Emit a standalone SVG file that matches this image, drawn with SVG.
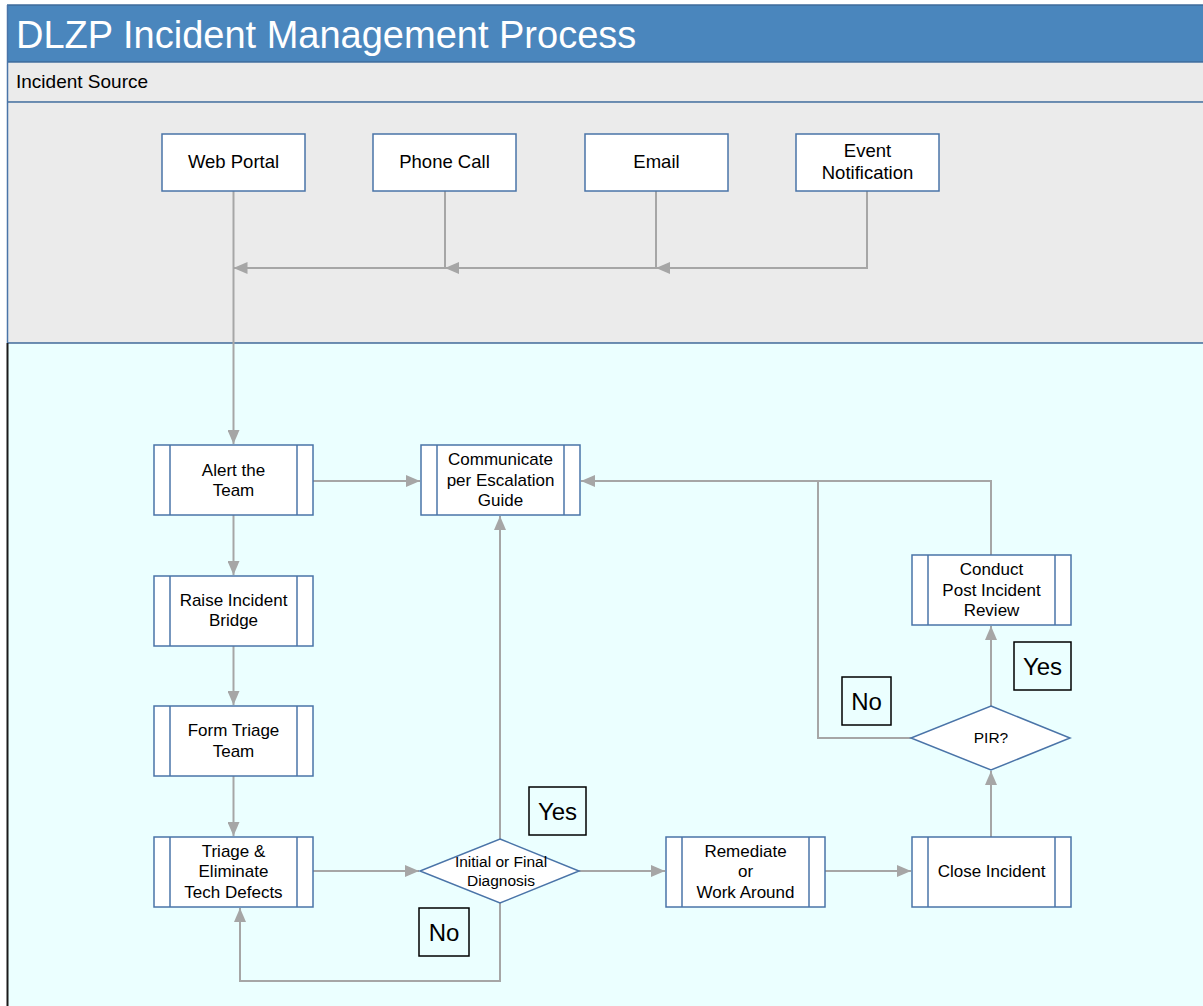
<svg xmlns="http://www.w3.org/2000/svg" width="1203" height="1006" viewBox="0 0 1203 1006">
<defs>
<marker id="ah" viewBox="0 0 14 12" refX="14" refY="6" markerWidth="14" markerHeight="12" markerUnits="userSpaceOnUse" orient="auto">
<path d="M0,0 L14,6 L0,12 Z" fill="#A6A6A6"/>
</marker>
<style>
text{font-family:"Liberation Sans",Arial,sans-serif;fill:#000;}
.src{fill:#fff;stroke:#4A74A8;stroke-width:1.5;}
.proc{fill:#fff;stroke:#4A74A8;stroke-width:1.5;}
.bar{stroke:#4A74A8;stroke-width:1.5;}
.dia{fill:#fff;stroke:#4A74A8;stroke-width:1.5;}
.lbl{fill:none;stroke:#000;stroke-width:1.5;}
.c{fill:none;stroke:#A6A6A6;stroke-width:2;}
.t18{font-size:18.5px;text-anchor:middle;}
.t17{font-size:17px;text-anchor:middle;}
.t14{font-size:15.5px;text-anchor:middle;}
.t24{font-size:24px;text-anchor:middle;}
</style>
</defs>
<g id="background">
<rect x="0" y="0" width="1203" height="1006" fill="#fff"/>
<rect x="7" y="5" width="1196" height="57" fill="#4A86BD"/>
<line x1="7" y1="5" x2="1203" y2="5" stroke="#3E6A9A" stroke-width="1.5"/>
<line x1="7" y1="62" x2="1203" y2="62" stroke="#3E6A9A" stroke-width="1.5"/>
<rect x="7" y="63" width="1196" height="39" fill="#EBEBEB"/>
<line x1="7" y1="102" x2="1203" y2="102" stroke="#3E6A9A" stroke-width="1.5"/>
<rect x="7" y="103" width="1196" height="240" fill="#EBEBEB"/>
<line x1="7" y1="343" x2="1203" y2="343" stroke="#3E6A9A" stroke-width="1.5"/>
<rect x="7" y="344" width="1196" height="662" fill="#EBFFFF"/>
<line x1="7.5" y1="5" x2="7.5" y2="343" stroke="#4A74A8" stroke-width="1.5"/>
<line x1="7.5" y1="343" x2="7.5" y2="1006" stroke="#1A1A1A" stroke-width="2"/>
<text x="16" y="48" style="font-size:38px;fill:#fff;">DLZP Incident Management Process</text>
<text x="16" y="88" style="font-size:19px;">Incident Source</text>
</g>
<g id="connectors">
<path class="c" d="M233.5,191 V444" marker-end="url(#ah)"/>
<path class="c" d="M445,191 V268"/>
<path class="c" d="M656,191 V268"/>
<path class="c" d="M867,191 V268 H656" marker-end="url(#ah)"/>
<path class="c" d="M656,268 H445" marker-end="url(#ah)"/>
<path class="c" d="M445,268 H233.5" marker-end="url(#ah)"/>
<path class="c" d="M233.5,515 V575" marker-end="url(#ah)"/>
<path class="c" d="M233.5,646 V705" marker-end="url(#ah)"/>
<path class="c" d="M233.5,776 V836" marker-end="url(#ah)"/>
<path class="c" d="M313,481 H420" marker-end="url(#ah)"/>
<path class="c" d="M313,871 H419" marker-end="url(#ah)"/>
<path class="c" d="M500,839 V516" marker-end="url(#ah)"/>
<path class="c" d="M579,871 H665" marker-end="url(#ah)"/>
<path class="c" d="M500,903 V981 H240 V908" marker-end="url(#ah)"/>
<path class="c" d="M825,871 H911" marker-end="url(#ah)"/>
<path class="c" d="M991,837 V771" marker-end="url(#ah)"/>
<path class="c" d="M991,706 V626" marker-end="url(#ah)"/>
<path class="c" d="M991,555 V481 H581" marker-end="url(#ah)"/>
<path class="c" d="M911,738 H818 V481"/>
</g>
<g id="web-portal">
<rect class="src" x="162" y="134" width="143" height="57"/>
<text class="t18" x="233.5" y="168">Web Portal</text>
</g>
<g id="phone-call">
<rect class="src" x="373" y="134" width="143" height="57"/>
<text class="t18" x="444.5" y="168">Phone Call</text>
</g>
<g id="email">
<rect class="src" x="585" y="134" width="143" height="57"/>
<text class="t18" x="656.5" y="168">Email</text>
</g>
<g id="event-notification">
<rect class="src" x="796" y="134" width="143" height="57"/>
<text class="t18" x="867.5" y="157">Event</text>
<text class="t18" x="867.5" y="179">Notification</text>
</g>
<g id="alert-team">
<rect class="proc" x="154" y="445" width="159" height="70"/>
<line class="bar" x1="170" y1="445" x2="170" y2="515"/>
<line class="bar" x1="297" y1="445" x2="297" y2="515"/>
<text class="t17" x="233.5" y="476">Alert the</text>
<text class="t17" x="233.5" y="496">Team</text>
</g>
<g id="raise-bridge">
<rect class="proc" x="154" y="576" width="159" height="70"/>
<line class="bar" x1="170" y1="576" x2="170" y2="646"/>
<line class="bar" x1="297" y1="576" x2="297" y2="646"/>
<text class="t17" x="233.5" y="606">Raise Incident</text>
<text class="t17" x="233.5" y="626">Bridge</text>
</g>
<g id="form-triage">
<rect class="proc" x="154" y="706" width="159" height="70"/>
<line class="bar" x1="170" y1="706" x2="170" y2="776"/>
<line class="bar" x1="297" y1="706" x2="297" y2="776"/>
<text class="t17" x="233.5" y="736">Form Triage</text>
<text class="t17" x="233.5" y="757">Team</text>
</g>
<g id="triage-eliminate">
<rect class="proc" x="154" y="837" width="159" height="70"/>
<line class="bar" x1="170" y1="837" x2="170" y2="907"/>
<line class="bar" x1="297" y1="837" x2="297" y2="907"/>
<text class="t17" x="233.5" y="857">Triage &amp;</text>
<text class="t17" x="233.5" y="877">Eliminate</text>
<text class="t17" x="233.5" y="898">Tech Defects</text>
</g>
<g id="communicate">
<rect class="proc" x="421" y="445" width="159" height="70"/>
<line class="bar" x1="437" y1="445" x2="437" y2="515"/>
<line class="bar" x1="564" y1="445" x2="564" y2="515"/>
<text class="t17" x="500.5" y="465">Communicate</text>
<text class="t17" x="500.5" y="486">per Escalation</text>
<text class="t17" x="500.5" y="506">Guide</text>
</g>
<g id="diagnosis">
<polygon class="dia" points="500,839 579,871 500,903 420,871"/>
<text class="t14" x="501" y="867">Initial or Final</text>
<text class="t14" x="501" y="886">Diagnosis</text>
</g>
<g id="remediate">
<rect class="proc" x="666" y="837" width="159" height="70"/>
<line class="bar" x1="682" y1="837" x2="682" y2="907"/>
<line class="bar" x1="809" y1="837" x2="809" y2="907"/>
<text class="t17" x="745.5" y="857">Remediate</text>
<text class="t17" x="745.5" y="877">or</text>
<text class="t17" x="745.5" y="898">Work Around</text>
</g>
<g id="close-incident">
<rect class="proc" x="912" y="837" width="159" height="70"/>
<line class="bar" x1="928" y1="837" x2="928" y2="907"/>
<line class="bar" x1="1055" y1="837" x2="1055" y2="907"/>
<text class="t17" x="991.5" y="877">Close Incident</text>
</g>
<g id="pir-decision">
<polygon class="dia" points="991,706 1070,738 991,770 911,738"/>
<text class="t14" x="991" y="743">PIR?</text>
</g>
<g id="post-incident-review">
<rect class="proc" x="912" y="555" width="159" height="70"/>
<line class="bar" x1="928" y1="555" x2="928" y2="625"/>
<line class="bar" x1="1055" y1="555" x2="1055" y2="625"/>
<text class="t17" x="991.5" y="575">Conduct</text>
<text class="t17" x="991.5" y="596">Post Incident</text>
<text class="t17" x="991.5" y="616">Review</text>
</g>
<g id="label-yes-diagnosis">
<rect class="lbl" x="529" y="787" width="57" height="48"/>
<text class="t24" x="557.5" y="820">Yes</text>
</g>
<g id="label-no-diagnosis">
<rect class="lbl" x="419" y="908" width="50" height="48"/>
<text class="t24" x="444" y="941">No</text>
</g>
<g id="label-yes-pir">
<rect class="lbl" x="1014" y="642" width="57" height="48"/>
<text class="t24" x="1042.5" y="675">Yes</text>
</g>
<g id="label-no-pir">
<rect class="lbl" x="842" y="677" width="49" height="48"/>
<text class="t24" x="866.5" y="710">No</text>
</g>
</svg>
